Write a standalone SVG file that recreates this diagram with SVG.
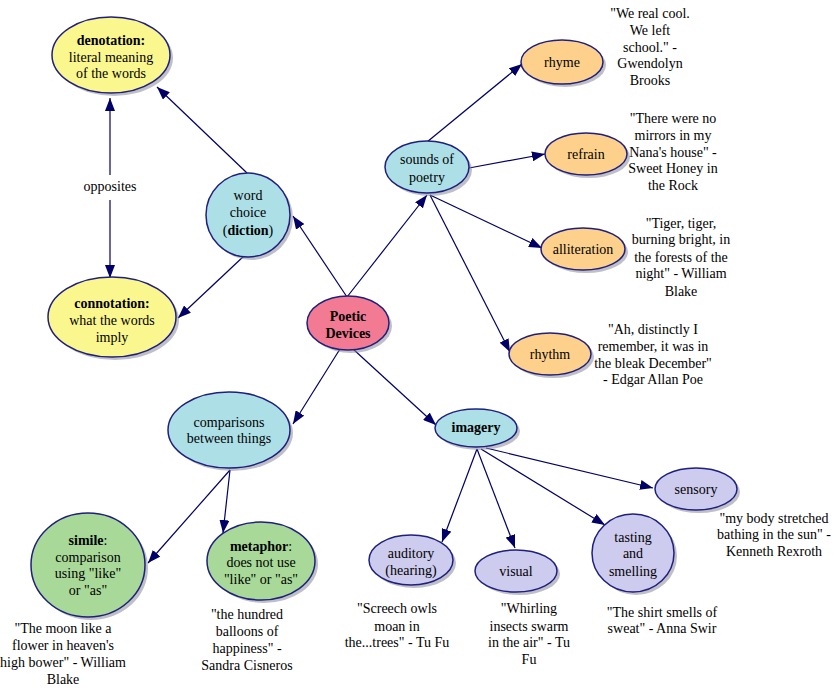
<svg xmlns="http://www.w3.org/2000/svg" width="836" height="690" viewBox="0 0 836 690">
<style>
text{font-family:"Liberation Serif","Times New Roman",serif;font-size:14px;fill:#000;text-anchor:middle}
.b{font-weight:bold}
.n{stroke:#1f1f7f;stroke-width:1.5}
.sh{fill:#8a8a9a;opacity:0.55}
.y{fill:#fbf78f}.bl{fill:#addfe7}.pk{fill:#f27a93}.or{fill:#fdd18c}.gr{fill:#a8d998}.lv{fill:#cdcbee}
.c line{stroke:#000066;stroke-width:1.2;marker-end:url(#ah)}
</style>
<defs>
<marker id="ah" markerUnits="userSpaceOnUse" markerWidth="14" markerHeight="10" refX="13" refY="5" orient="auto-start-reverse"><path d="M0,0 L13,5 L0,10 z" fill="#000066"/></marker>
</defs>
<rect width="836" height="690" fill="#fff"/>
<g class="c" id="connectors">
<line x1="110" y1="175" x2="110" y2="98" />
<line x1="110" y1="200" x2="110" y2="278" />
<line x1="247" y1="173" x2="157" y2="87"/>
<line x1="245" y1="255" x2="178" y2="318"/>
<line x1="347" y1="297" x2="293" y2="216"/>
<line x1="347" y1="297" x2="427" y2="195"/>
<line x1="427" y1="142" x2="522" y2="64"/>
<line x1="469" y1="168" x2="545" y2="154"/>
<line x1="430" y1="195" x2="542" y2="248"/>
<line x1="430" y1="195" x2="510" y2="352"/>
<line x1="340" y1="349" x2="293" y2="424"/>
<line x1="353" y1="349" x2="436" y2="425"/>
<line x1="230" y1="470" x2="148" y2="563"/>
<line x1="230" y1="470" x2="223" y2="533"/>
<line x1="477" y1="449" x2="442" y2="542"/>
<line x1="477" y1="449" x2="515" y2="548"/>
<line x1="481" y1="449" x2="605" y2="525"/>
<line x1="486" y1="448" x2="653" y2="488"/>
</g>
<text x="110" y="191">opposites</text>
<g id="denotation"><ellipse class="sh" cx="114" cy="58" rx="59" ry="38"/><ellipse class="n y" cx="111" cy="55" rx="59" ry="38"/><text x="111" y="45" class="b">denotation:</text><text x="111" y="62">literal meaning</text><text x="111" y="78">of the words</text></g>
<g id="connotation"><ellipse class="sh" cx="115" cy="320" rx="64" ry="40"/><ellipse class="n y" cx="112" cy="317" rx="64" ry="40"/><text x="112" y="308" class="b">connotation:</text><text x="112" y="325">what the words</text><text x="112" y="342">imply</text></g>
<g id="wordchoice"><ellipse class="sh" cx="251" cy="218" rx="42" ry="42"/><ellipse class="n bl" cx="248" cy="215" rx="42" ry="42"/><text x="248" y="200">word</text><text x="248" y="217">choice</text><text x="248" y="235">(<tspan class="b">diction</tspan>)</text></g>
<g id="poetic"><ellipse class="sh" cx="351" cy="326" rx="41" ry="27"/><ellipse class="n pk" cx="348" cy="323" rx="41" ry="27"/><text x="348" y="321" class="b">Poetic</text><text x="348" y="338" class="b">Devices</text></g>
<g id="sounds"><ellipse class="sh" cx="430" cy="170" rx="42" ry="26"/><ellipse class="n bl" cx="427" cy="167" rx="42" ry="26"/><text x="427" y="164">sounds of</text><text x="427" y="182">poetry</text></g>
<g id="rhyme"><ellipse class="sh" cx="565" cy="65" rx="41" ry="22"/><ellipse class="n or" cx="562" cy="62" rx="41" ry="22"/><text x="562" y="67">rhyme</text></g>
<g id="refrain"><ellipse class="sh" cx="589" cy="157" rx="41" ry="21"/><ellipse class="n or" cx="586" cy="154" rx="41" ry="21"/><text x="586" y="159">refrain</text></g>
<g id="alliteration"><ellipse class="sh" cx="586" cy="252" rx="42" ry="21"/><ellipse class="n or" cx="583" cy="249" rx="42" ry="21"/><text x="583" y="254">alliteration</text></g>
<g id="rhythm"><ellipse class="sh" cx="553" cy="357" rx="41" ry="21"/><ellipse class="n or" cx="550" cy="354" rx="41" ry="21"/><text x="550" y="359">rhythm</text></g>
<g id="comparisons"><ellipse class="sh" cx="232" cy="433" rx="61" ry="38"/><ellipse class="n bl" cx="229" cy="430" rx="61" ry="38"/><text x="229" y="427">comparisons</text><text x="229" y="443">between things</text></g>
<g id="imagery"><ellipse class="sh" cx="479" cy="431" rx="41" ry="19"/><ellipse class="n bl" cx="476" cy="428" rx="41" ry="19"/><text x="476" y="432" class="b">imagery</text></g>
<g id="simile"><ellipse class="sh" cx="91" cy="568" rx="57" ry="52"/><ellipse class="n gr" cx="88" cy="565" rx="57" ry="52"/><text x="88" y="545"><tspan class="b">simile</tspan>:</text><text x="88" y="562">comparison</text><text x="88" y="578">using "like"</text><text x="88" y="595">or "as"</text></g>
<g id="metaphor"><ellipse class="sh" cx="264" cy="564" rx="54" ry="39"/><ellipse class="n gr" cx="261" cy="561" rx="54" ry="39"/><text x="261" y="551"><tspan class="b">metaphor</tspan>:</text><text x="261" y="567">does not use</text><text x="261" y="584">"like" or "as"</text></g>
<g id="auditory"><ellipse class="sh" cx="414" cy="563" rx="42" ry="25"/><ellipse class="n lv" cx="411" cy="560" rx="42" ry="25"/><text x="411" y="558">auditory</text><text x="411" y="575">(hearing)</text></g>
<g id="visual"><ellipse class="sh" cx="519" cy="574" rx="41" ry="21"/><ellipse class="n lv" cx="516" cy="571" rx="41" ry="21"/><text x="516" y="576">visual</text></g>
<g id="tasting"><ellipse class="sh" cx="636" cy="556" rx="41" ry="39"/><ellipse class="n lv" cx="633" cy="553" rx="41" ry="39"/><text x="633" y="542">tasting</text><text x="633" y="558">and</text><text x="633" y="576">smelling</text></g>
<g id="sensory"><ellipse class="sh" cx="699" cy="492" rx="41" ry="21"/><ellipse class="n lv" cx="696" cy="489" rx="41" ry="21"/><text x="696" y="494">sensory</text></g>
<g id="quotes">
<text x="650" y="18">"We real cool.</text><text x="650" y="35">We left</text><text x="650" y="52">school." -</text><text x="650" y="68">Gwendolyn</text><text x="650" y="85">Brooks</text>
<text x="673" y="123">"There were no</text><text x="673" y="140">mirrors in my</text><text x="673" y="157">Nana's house" -</text><text x="673" y="173">Sweet Honey in</text><text x="673" y="190">the Rock</text>
<text x="681" y="228">"Tiger, tiger,</text><text x="681" y="244">burning bright, in</text><text x="681" y="262">the forests of the</text><text x="681" y="278">night" - William</text><text x="681" y="296">Blake</text>
<text x="653" y="334">"Ah, distinctly I</text><text x="653" y="351">remember, it was in</text><text x="653" y="368">the bleak December"</text><text x="653" y="384">- Edgar Allan Poe</text>
<text x="63" y="633">"The moon like a</text><text x="63" y="650">flower in heaven's</text><text x="63" y="667">high bower" - William</text><text x="63" y="684">Blake</text>
<text x="247" y="619">"the hundred</text><text x="247" y="636">balloons of</text><text x="247" y="653">happiness" -</text><text x="247" y="670">Sandra Cisneros</text>
<text x="397" y="613">"Screech owls</text><text x="397" y="631">moan in</text><text x="397" y="647">the...trees" - Tu Fu</text>
<text x="529" y="613">"Whirling</text><text x="529" y="631">insects swarm</text><text x="529" y="647">in the air" - Tu</text><text x="529" y="664">Fu</text>
<text x="662" y="617">"The shirt smells of</text><text x="662" y="633">sweat" - Anna Swir</text>
<text x="774" y="523">"my body stretched</text><text x="774" y="539">bathing in the sun" -</text><text x="774" y="556">Kenneth Rexroth</text>
</g>
</svg>
